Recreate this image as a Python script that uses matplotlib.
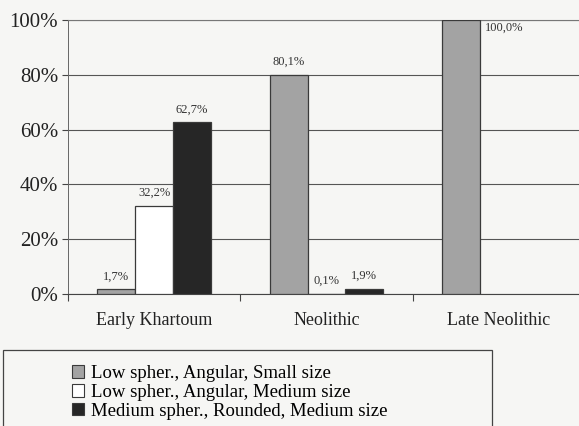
import matplotlib
matplotlib.use('Agg')
import matplotlib.pyplot as plt
from matplotlib.patches import Patch, Rectangle
import numpy as np

# data
periods = ['Early Khartoum', 'Neolithic', 'Late Neolithic']
series = ['Low spher., Angular, Small size',
          'Low spher., Angular, Medium size',
          'Medium spher., Rounded, Medium size']
small_ang = [1.7, 80.1, 100.0]
medium_ang = [32.2, 0.1, 0.0]
medium_round = [62.7, 1.9, 0.0]
yticks = [0, 20, 40, 60, 80, 100]

BG = '#f6f6f4'
GRAY = '#a3a3a3'
WHITE = '#ffffff'
BLACK = '#262626'
EDGE = '#3a3a3a'
FONT = 'Liberation Serif'

plt.rcParams['font.family'] = FONT

fig = plt.figure(figsize=(5.79, 4.26), dpi=100, facecolor=BG)
ax = fig.add_axes([68 / 579, 1 - 294 / 426, 517 / 579, 274 / 426])
ax.set_facecolor(BG)

x = np.arange(len(periods))
w = 0.22
vals = [small_ang, medium_ang, medium_round]
colors = [GRAY, WHITE, BLACK]
offsets = [-w, 0, w]
for v, c, off in zip(vals, colors, offsets):
    for xi, val in zip(x, v):
        if val <= 0:
            continue
        ax.bar(xi + off, val, w, color=c, edgecolor=EDGE, linewidth=0.9, zorder=3)
        label = f'{val:.1f}%'.replace('.', ',')
        if val == 100.0:
            ax.text(xi + off + w / 2 + 0.03, val - 5, label, ha='left', va='bottom',
                    fontsize=9, color='#333333', zorder=4)
        else:
            ax.text(xi + off, val + 2.5, label, ha='center', va='bottom',
                    fontsize=9, color='#333333', zorder=4)

ax.set_xlim(-0.5, 2.5)
ax.set_ylim(0, 100)
ax.set_yticks(yticks)
ax.set_yticklabels([f'{t}%' for t in yticks], fontsize=15, color='#222222')
ax.set_xticks([-0.5, 0.5, 1.5, 2.5])
ax.set_xticklabels([])
ax.set_xticks(x, minor=True)
ax.set_xticklabels(periods, minor=True, fontsize=13, color='#222222')
ax.tick_params(axis='x', which='minor', length=0, pad=13)
ax.tick_params(axis='x', which='major', length=5, direction='out', color='#444444')
ax.tick_params(axis='y', length=4, color='#444444', pad=3)
ax.grid(axis='y', color='#555555', linewidth=0.8, zorder=1)

for s in ['top', 'right']:
    ax.spines[s].set_color('#777777')
    ax.spines[s].set_linestyle((0, (2, 1)))
    ax.spines[s].set_linewidth(0.8)
ax.spines['left'].set_color('#666666')
ax.spines['left'].set_linewidth(0.7)
ax.spines['bottom'].set_color('#444444')
ax.spines['bottom'].set_linewidth(0.8)

# legend box
fig.patches.append(Rectangle((3 / 579, -0.05), 489 / 579, 0.05 + 1 - 350 / 426,
                             transform=fig.transFigure, facecolor=BG,
                             edgecolor='#444444', linewidth=0.9))
handles = [Patch(facecolor=c, edgecolor=EDGE, linewidth=0.8) for c in colors]
fig.legend(handles, series, loc='upper left', bbox_to_anchor=(72 / 579, 1 - 365 / 426),
           frameon=False, fontsize=13.5, handlelength=0.65, handleheight=0.65,
           handletextpad=0.35, labelspacing=0.1, borderpad=0, borderaxespad=0)

fig.savefig('out.png', dpi=100, facecolor=BG)
